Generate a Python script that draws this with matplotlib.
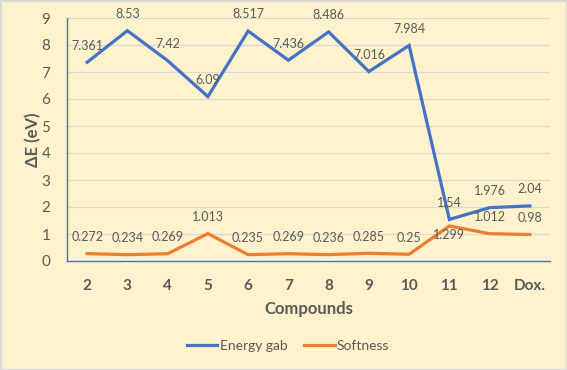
import matplotlib
matplotlib.use("Agg")
import matplotlib.pyplot as plt
from matplotlib.patches import Rectangle

categories = ["2", "3", "4", "5", "6", "7", "8", "9", "10", "11", "12", "Dox."]
energy_gap = [7.361, 8.53, 7.42, 6.09, 8.517, 7.436, 8.486, 7.016, 7.984, 1.54, 1.976, 2.04]
softness = [0.272, 0.234, 0.269, 1.013, 0.235, 0.269, 0.236, 0.285, 0.25, 1.299, 1.012, 0.98]
y_ticks = list(range(0, 10))

plt.rcParams['font.family'] = ['Lato', 'DejaVu Sans']
bg = "#FFF2CC"
gray = "#595959"
blue = "#4472C4"
orange = "#ED7D31"

fig = plt.figure(figsize=(5.67, 3.70), dpi=100, facecolor=bg)
fig.patches.append(Rectangle((0, 0), 1, 1, transform=fig.transFigure, fill=False,
                             edgecolor="#D9D9D9", linewidth=2.5))
ax = fig.add_axes([67/567, 1-261/370, (550-67)/567, (261-18)/370])
ax.set_facecolor(bg)

x = list(range(len(categories)))
ax.plot(x, energy_gap, color=blue, lw=2.3, label="Energy gab", solid_joinstyle="miter")
ax.plot(x, softness, color=orange, lw=2.3, label="Softness", solid_joinstyle="miter")

for i, v in enumerate(energy_gap):
    ax.annotate(f"{v:g}", (i, v), xytext=(0, 12), textcoords="offset points",
                ha="center", va="center", fontsize=9, color=gray)
for i, v in enumerate(softness):
    dy = -6.5 if categories[i] == "11" else 12
    ax.annotate(f"{v:g}", (i, v), xytext=(0, dy), textcoords="offset points",
                ha="center", va="center", fontsize=9, color=gray)

ax.set_xlim(-0.5, len(categories) - 0.5)
ax.set_ylim(0, 9)
ax.set_yticks(y_ticks)
ax.set_xticks(x)
ax.set_xticklabels(categories, fontweight="bold")
ax.tick_params(axis="both", length=0, colors=gray, labelsize=11)
ax.tick_params(axis="x", pad=13)
ax.tick_params(axis="y", pad=12)
ax.grid(axis="y", color="#D9D9D9", lw=0.9)
ax.set_axisbelow(True)
for s in ["top", "right"]:
    ax.spines[s].set_visible(False)
for s in ["left", "bottom"]:
    ax.spines[s].set_color(blue)
    ax.spines[s].set_linewidth(1.0)

ax.set_xlabel("Compounds", fontsize=12, fontweight="bold", color=gray, labelpad=6)
ax.set_ylabel("ΔE (eV)", fontsize=12, fontweight="bold", color=gray, va="center")
ax.yaxis.set_label_coords(-0.070, 0.5)

leg = fig.legend(loc="center", bbox_to_anchor=(288/567, 1-346/370), ncol=2,
                 frameon=False, fontsize=10, handlelength=2.2, handletextpad=0.15,
                 columnspacing=1.2, labelcolor=gray)

fig.savefig("out.png", dpi=100, facecolor=bg)
